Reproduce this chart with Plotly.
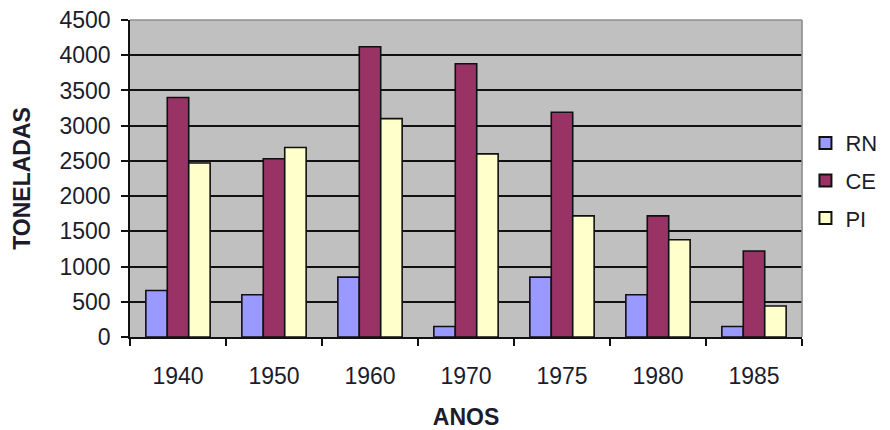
import plotly.graph_objects as go

# Annual production (tonnes) by state
anos = ["1940", "1950", "1960", "1970", "1975", "1980", "1985"]
rn = [660, 600, 850, 150, 850, 600, 150]
ce = [3400, 2530, 4120, 3880, 3190, 1720, 1220]
pi = [2470, 2690, 3100, 2600, 1720, 1380, 440]

series = [("RN", rn, "#9999ff"), ("CE", ce, "#993366"), ("PI", pi, "#ffffcc")]

font_family = "Liberation Sans, Arial, sans-serif"
text_color = "#1c1c2c"

fig = go.Figure()
for name, vals, color in series:
    fig.add_trace(go.Bar(
        name=name, x=anos, y=vals, legendgroup=name,
        marker=dict(color=color, line=dict(color="#111111", width=1.6)),
    ))

fig.update_layout(
    width=890, height=430,
    margin=dict(l=130, r=88, t=20, b=93, autoexpand=False),
    paper_bgcolor="white",
    plot_bgcolor="#c0c0c0",
    barmode="group",
    bargap=0.33,
    bargroupgap=0,
    font=dict(family=font_family, size=22, color=text_color),
    showlegend=True,
    legend=dict(
        xref="container", yref="container",
        x=0.905, y=0.58, xanchor="left", yanchor="middle",
        font=dict(size=22, color=text_color),
        itemsizing="constant", itemwidth=30,
        tracegroupgap=6,
        bgcolor="rgba(0,0,0,0)",
    ),
    xaxis=dict(
        type="category",
        automargin=False,
        tickson="boundaries",
        ticks="outside", ticklen=7, tickcolor="#111111", tickwidth=1.6,
        showline=True, linecolor="#111111", linewidth=1.6,
        showgrid=False,
        ticklabelstandoff=18,
        tickfont=dict(size=23),
        title=dict(text="<b>ANOS</b>", font=dict(size=23), standoff=22),
    ),
    yaxis=dict(
        range=[0, 4500],
        automargin=False,
        tickvals=list(range(0, 4501, 500)),
        ticks="outside", ticklen=7, tickcolor="#111111", tickwidth=1.6,
        showline=True, linecolor="#111111", linewidth=1.6,
        showgrid=True, gridcolor="#111111", gridwidth=2,
        zeroline=False,
        ticklabelstandoff=6,
        tickfont=dict(size=23),
        title=dict(text="<b>TONELADAS</b>", font=dict(size=23), standoff=22),
    ),
    shapes=[
        dict(type="line", xref="paper", yref="paper", x0=0, x1=1, y0=1, y1=1,
             line=dict(color="#8c8c8c", width=1.6), layer="above"),
        dict(type="line", xref="paper", yref="paper", x0=1, x1=1, y0=0, y1=1,
             line=dict(color="#8c8c8c", width=1.6), layer="above"),
    ],
)

fig.write_html("out.html")
